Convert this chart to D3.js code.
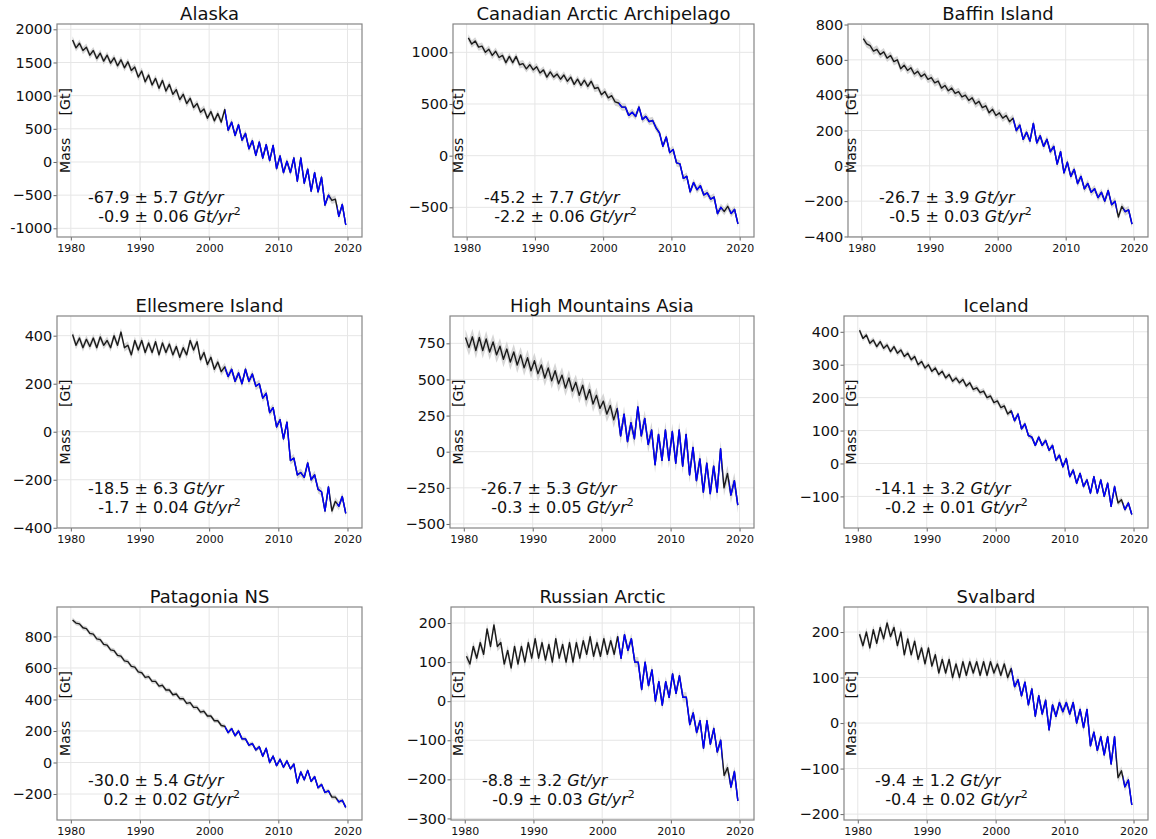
<!DOCTYPE html>
<html>
<head>
<meta charset="utf-8">
<script src="https://cdn.jsdelivr.net/npm/d3@7"></script>
<style>
  body { margin: 0; background: #fff; }
  text { font-family: "DejaVu Sans", sans-serif; fill: #111; }
</style>
</head>
<body>
<svg id="fig" width="1156" height="839"></svg>
<script>
const YEARS = [1980, 1981, 1982, 1983, 1984, 1985, 1986, 1987, 1988, 1989,
               1990, 1991, 1992, 1993, 1994, 1995, 1996, 1997, 1998, 1999,
               2000, 2001, 2002, 2003, 2004, 2005, 2006, 2007, 2008, 2009,
               2010, 2011, 2012, 2013, 2014, 2015, 2016, 2017, 2018, 2019];

// mass [Gt], two values per year: spring high, autumn low
const alaska = [1840,1720, 1790,1680, 1730,1610, 1680,1560, 1640,1520, 1610,1490, 1570,1450, 1540,1420, 1510,1380, 1430,1280,
                1370,1210, 1310,1160, 1260,1110, 1230,1070, 1170,1020, 1090,940, 1020,880, 960,820, 880,750, 800,660,
                760,620, 730,600, 790,480, 600,400, 560,330, 430,200, 320,100, 300,60, 260,20, 250,-100,
                90,-160, 10,-160, 60,-290, 60,-320, -110,-440, -160,-450, -230,-650, -500,-580, -560,-820, -640,-950];
const canadianArctic = [1140,1080, 1110,1050, 1060,1000, 1030,970, 1010,950, 970,900, 960,900, 960,880, 890,840, 880,830,
                860,800, 830,760, 810,760, 790,740, 780,720, 760,690, 740,680, 730,670, 720,650, 660,590,
                620,560, 580,520, 510,470, 470,390, 420,380, 470,350, 380,330, 340,270, 220,90, 180,30,
                60,-70, -80,-220, -200,-350, -260,-330, -290,-380, -360,-420, -400,-560, -500,-540, -490,-560, -520,-660];
const baffin = [720,690, 680,650, 660,630, 645,610, 625,590, 600,550, 570,540, 555,520, 535,505, 520,490,
                500,470, 480,440, 455,425, 440,410, 420,390, 400,370, 385,350, 365,330, 340,300, 320,285,
                300,270, 285,250, 270,200, 230,150, 190,140, 240,130, 170,110, 150,80, 110,10, 80,-40,
                20,-60, -20,-100, -60,-130, -100,-150, -130,-180, -150,-200, -140,-220, -200,-290, -230,-260, -250,-330];
const ellesmere = [405,360, 390,350, 385,355, 390,350, 395,360, 380,350, 400,360, 415,350, 360,320, 380,340,
                380,330, 370,330, 375,320, 370,330, 365,320, 355,310, 350,320, 380,340, 375,300, 330,280,
                310,260, 290,250, 270,230, 260,210, 245,200, 260,210, 240,190, 200,140, 160,80, 100,20,
                50,-30, 40,-120, -110,-180, -170,-190, -130,-200, -180,-240, -250,-330, -230,-330, -290,-310, -270,-340];
const highMountainsAsia = [790,720, 795,700, 790,700, 780,690, 760,670, 730,640, 710,620, 690,600, 670,580, 650,560,
                630,540, 600,510, 580,490, 560,470, 530,440, 510,420, 480,390, 460,360, 430,330, 390,300,
                350,260, 320,220, 300,110, 260,70, 200,90, 310,110, 230,50, 150,-90, 120,-60, 150,-60,
                140,-80, 150,-100, 120,-160, 30,-200, -50,-280, -80,-290, -100,-280, 20,-250, -150,-300, -200,-370];
const iceland = [405,380, 390,365, 375,355, 370,350, 360,340, 355,335, 345,325, 335,315, 325,300, 310,290,
                300,280, 290,270, 280,260, 270,250, 260,245, 255,235, 245,225, 230,215, 220,200, 205,185,
                190,170, 175,150, 160,130, 150,105, 120,85, 80,55, 80,55, 70,40, 55,10, 25,-10,
                15,-40, -20,-60, -30,-70, -50,-90, -40,-90, -50,-100, -60,-130, -70,-120, -110,-140, -120,-155];
const patagonia = [905,885, 880,855, 850,820, 815,785, 780,750, 745,715, 710,680, 675,645, 640,610, 605,575,
                570,540, 545,515, 515,485, 490,460, 460,430, 435,405, 405,375, 380,350, 350,320, 325,295,
                295,265, 265,235, 230,190, 215,170, 200,150, 150,110, 120,80, 100,40, 90,0, 40,-20,
                20,-30, 10,-40, -10,-130, -60,-110, -50,-120, -90,-160, -140,-190, -180,-220, -220,-250, -240,-285];
const russianArctic = [115,95, 140,110, 150,120, 185,140, 195,140, 150,95, 130,85, 140,95, 140,100, 150,110,
                160,110, 150,105, 145,100, 160,110, 145,100, 150,100, 150,110, 155,120, 165,115, 150,115,
                160,120, 155,120, 165,110, 170,130, 160,100, 100,30, 100,40, 80,0, 50,-10, 50,10,
                70,20, 65,10, 10,-60, -30,-80, -50,-120, -50,-110, -70,-130, -100,-190, -170,-220, -180,-255];
const svalbard = [195,170, 200,165, 205,175, 210,185, 220,190, 210,170, 200,150, 185,150, 180,140, 165,130,
                165,125, 150,110, 140,110, 140,100, 130,100, 135,105, 135,110, 135,105, 135,105, 135,110,
                130,105, 130,100, 120,80, 95,60, 90,40, 75,15, 60,20, 50,-15, 40,15, 45,25,
                45,20, 45,0, 30,-10, 30,-50, -20,-60, -30,-70, -30,-90, -30,-120, -105,-140, -125,-180];

const REGIONS = ['Alaska', 'Canadian Arctic Archipelago', 'Baffin Island',
                 'Ellesmere Island', 'High Mountains Asia', 'Iceland',
                 'Patagonia NS', 'Russian Arctic', 'Svalbard'];
const SERIES = [alaska, canadianArctic, baffin, ellesmere, highMountainsAsia, iceland, patagonia, russianArctic, svalbard];
const SIGMA = [55, 36, 22, 17, 55, 9, 15, 13, 10];   // half width of the grey band [Gt]
const RATES = ['-67.9 ± 5.7', '-45.2 ± 7.7', '-26.7 ± 3.9', '-18.5 ± 6.3', '-26.7 ± 5.3',
               '-14.1 ± 3.2', '-30.0 ± 5.4', '-8.8 ± 3.2', '-9.4 ± 1.2'];
const ACCELS = ['-0.9 ± 0.06', '-2.2 ± 0.06', '-0.5 ± 0.03', '-1.7 ± 0.04', '-0.3 ± 0.05',
                '-0.2 ± 0.01', '0.2 ± 0.02', '-0.9 ± 0.03', '-0.4 ± 0.02'];
const X_TICKS = [1980, 1990, 2000, 2010, 2020];
const Y_TICKS = [[-1000, -500, 0, 500, 1000, 1500, 2000],
                 [-500, 0, 500, 1000],
                 [-400, -200, 0, 200, 400, 600, 800],
                 [-400, -200, 0, 200, 400],
                 [-500, -250, 0, 250, 500, 750],
                 [-100, 0, 100, 200, 300, 400],
                 [-200, 0, 200, 400, 600, 800],
                 [-300, -200, -100, 0, 100, 200],
                 [-200, -100, 0, 100, 200]];
const Y_DOMAINS = [[-1131, 2080], [-787, 1274], [-403, 803], [-401, 482], [-528, 939],
                   [-196, 448], [-365, 987], [-304, 241], [-213, 255]];
const GRACE = [[2002.3, 2017.5], [2018.5, 2020.5]];   // satellite periods drawn in blue

// layout
const X_DOMAIN = [1978.0, 2022.1];
const PHASE = [0.25, 0.75];
const FRAMES = [[57, 24, 362, 237], [453, 24, 754, 237], [848, 24, 1148, 237],
                [57, 316, 362, 528], [450, 316, 754, 528], [844, 316, 1148, 528],
                [57, 607, 362, 820], [451, 607, 754, 820], [844, 607, 1148, 820]];
const LABEL_X = [65, 458, 851];

const svg = d3.select('#fig');

REGIONS.forEach((name, k) => {
    const [x0, y0, x1, y1] = FRAMES[k];
    const w = x1 - x0, h = y1 - y0;
    const x = d3.scaleLinear().domain(X_DOMAIN).range([0, w]);
    const y = d3.scaleLinear().domain(Y_DOMAINS[k]).range([h, 0]);
    const g = svg.append('g').attr('transform', `translate(${x0},${y0})`);

    // grid
    g.append('g').selectAll('line').data(X_TICKS).join('line')
        .attr('x1', d => x(d)).attr('x2', d => x(d))
        .attr('y1', 0).attr('y2', h)
        .attr('stroke', '#e6e6e6').attr('stroke-width', 1);
    g.append('g').selectAll('line').data(Y_TICKS[k]).join('line')
        .attr('x1', 0).attr('x2', w)
        .attr('y1', d => y(d)).attr('y2', d => y(d))
        .attr('stroke', '#e6e6e6').attr('stroke-width', 1);

    const pts = SERIES[k].map((v, i) => ({ t: YEARS[i >> 1] + PHASE[i % 2], v: v }));

    const clipId = 'grace' + k;
    g.append('clipPath').attr('id', clipId)
        .selectAll('rect').data(GRACE).join('rect')
        .attr('x', d => x(d[0])).attr('width', d => x(d[1]) - x(d[0]))
        .attr('y', -20).attr('height', h + 40);

    const band = d3.area()
        .x(d => x(d.t))
        .y0(d => y(d.v - SIGMA[k]))
        .y1(d => y(d.v + SIGMA[k]));
    const line = d3.line().x(d => x(d.t)).y(d => y(d.v));

    g.append('path').datum(pts).attr('d', band)
        .attr('fill', '#cccccc').attr('opacity', 0.8);
    g.append('path').datum(pts).attr('d', line)
        .attr('fill', 'none').attr('stroke', '#1a1a1a').attr('stroke-width', 1.4)
        .attr('stroke-linejoin', 'round');
    g.append('path').datum(pts).attr('d', line)
        .attr('fill', 'none').attr('stroke', '#0000ff').attr('stroke-width', 1.4)
        .attr('stroke-linejoin', 'round')
        .attr('clip-path', `url(#${clipId})`);

    // axes
    const xa = g.append('g').attr('transform', `translate(0,${h})`)
        .call(d3.axisBottom(x).tickValues(X_TICKS).tickFormat(d3.format('d'))
            .tickSize(3.5).tickPadding(3.5));
    xa.select('.domain').remove();
    xa.attr('font-family', 'DejaVu Sans').attr('font-size', 11);
    xa.selectAll('line').attr('stroke', '#666');

    const fmt = d3.format('d');
    const ya = g.append('g')
        .call(d3.axisLeft(y).tickValues(Y_TICKS[k])
            .tickFormat(v => v <= -1000 ? '-' + Math.abs(v) : fmt(v))
            .tickSize(3.5).tickPadding(1.2));
    ya.select('.domain').remove();
    ya.attr('font-family', 'DejaVu Sans').attr('font-size', 14.5);
    ya.selectAll('line').attr('stroke', '#666');

    // frame
    g.append('rect').attr('width', w).attr('height', h)
        .attr('fill', 'none').attr('stroke', '#858585').attr('stroke-width', 1.2);

    // title
    g.append('text')
        .attr('x', w / 2).attr('y', -4.5)
        .attr('text-anchor', 'middle')
        .attr('font-size', 18)
        .text(name);

    // trend text
    const t1 = g.append('text').attr('x', 31).attr('y', h - 34)
        .attr('font-size', 16).style('white-space', 'pre');
    t1.append('tspan').text(RATES[k] + ' ');
    t1.append('tspan').attr('font-style', 'italic').text('Gt/yr');

    const t2 = g.append('text').attr('x', 31).attr('y', h - 15.5)
        .attr('font-size', 16).style('white-space', 'pre');
    t2.append('tspan').text((ACCELS[k].startsWith('-') ? '  ' : '   ') + ACCELS[k] + ' ');
    t2.append('tspan').attr('font-style', 'italic').text('Gt/yr');
    t2.append('tspan').attr('font-size', 11).attr('dy', '-0.6em').text('2');

    // y label
    svg.append('text')
        .attr('transform', `translate(${LABEL_X[k % 3]},${y0 + h / 2}) rotate(-90)`)
        .attr('text-anchor', 'middle')
        .attr('dy', '0.35em')
        .attr('font-size', 14)
        .style('white-space', 'pre')
        .text('Mass     [Gt]');
});
</script>
</body>
</html>
